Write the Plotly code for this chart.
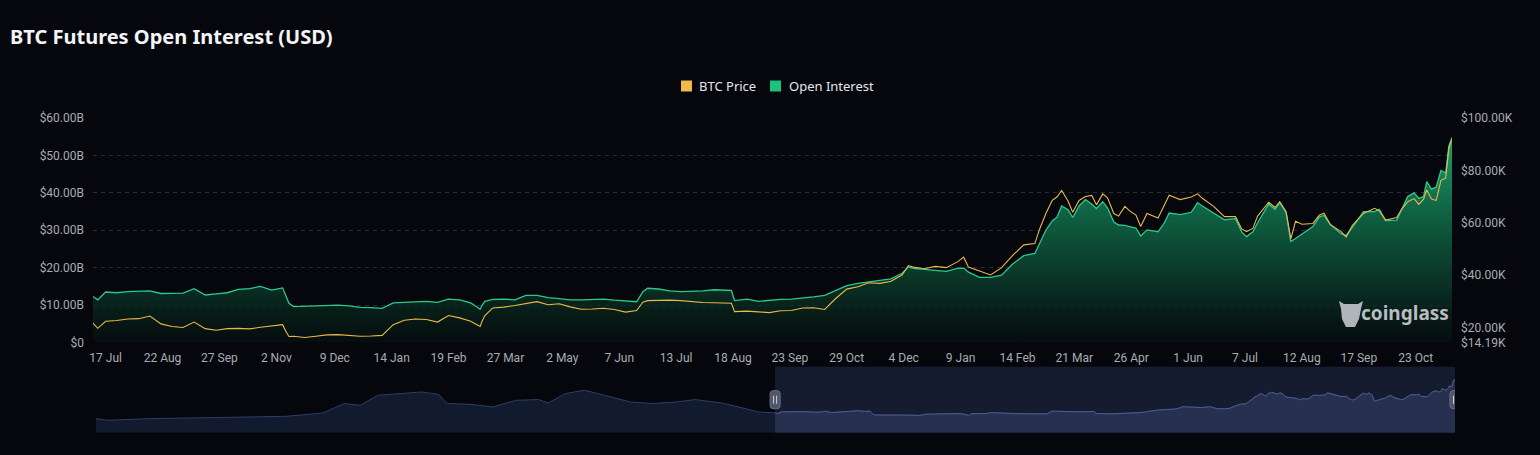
import plotly.graph_objects as go

# ---------------- data ----------------
dates = [
    "2022-07-09", "2022-07-12", "2022-07-17", "2022-07-24", "2022-07-31",
    "2022-08-07", "2022-08-14", "2022-08-21", "2022-08-28",
    "2022-09-04", "2022-09-11", "2022-09-18", "2022-09-25",
    "2022-10-02", "2022-10-09", "2022-10-16", "2022-10-23", "2022-10-30",
    "2022-11-06", "2022-11-08", "2022-11-10", "2022-11-13", "2022-11-20", "2022-11-27",
    "2022-12-04", "2022-12-11", "2022-12-18", "2022-12-25",
    "2023-01-01", "2023-01-08", "2023-01-15", "2023-01-22", "2023-01-29",
    "2023-02-05", "2023-02-12", "2023-02-19", "2023-02-26",
    "2023-03-05", "2023-03-09", "2023-03-11", "2023-03-12", "2023-03-14", "2023-03-19", "2023-03-26",
    "2023-04-02", "2023-04-09", "2023-04-16", "2023-04-23", "2023-04-30",
    "2023-05-07", "2023-05-14", "2023-05-21", "2023-05-28",
    "2023-06-04", "2023-06-11", "2023-06-18", "2023-06-22", "2023-06-25",
    "2023-07-02", "2023-07-09", "2023-07-16", "2023-07-23", "2023-07-30",
    "2023-08-06", "2023-08-13", "2023-08-17", "2023-08-19", "2023-08-27",
    "2023-09-03", "2023-09-10", "2023-09-17", "2023-09-24",
    "2023-10-01", "2023-10-08", "2023-10-15", "2023-10-22", "2023-10-29",
    "2023-11-05", "2023-11-12", "2023-11-19", "2023-11-26",
    "2023-12-03", "2023-12-07", "2023-12-10", "2023-12-17", "2023-12-24", "2023-12-31",
    "2024-01-07", "2024-01-11", "2024-01-14", "2024-01-21", "2024-01-28",
    "2024-02-04", "2024-02-11", "2024-02-18", "2024-02-25", "2024-02-28",
    "2024-03-03", "2024-03-07", "2024-03-10", "2024-03-13", "2024-03-17", "2024-03-20", "2024-03-24", "2024-03-28",
    "2024-04-01", "2024-04-04", "2024-04-08", "2024-04-11", "2024-04-15", "2024-04-18", "2024-04-22", "2024-04-25", "2024-04-29",
    "2024-05-02", "2024-05-06", "2024-05-13", "2024-05-17", "2024-05-20", "2024-05-27",
    "2024-06-03", "2024-06-07", "2024-06-10", "2024-06-17", "2024-06-24",
    "2024-07-01", "2024-07-05", "2024-07-08", "2024-07-12", "2024-07-15", "2024-07-22", "2024-07-26", "2024-07-29",
    "2024-08-02", "2024-08-05", "2024-08-08", "2024-08-12", "2024-08-19", "2024-08-23", "2024-08-26", "2024-08-30",
    "2024-09-06", "2024-09-09", "2024-09-13", "2024-09-20", "2024-09-27", "2024-09-30",
    "2024-10-04", "2024-10-11", "2024-10-14", "2024-10-18", "2024-10-22", "2024-10-25", "2024-10-28", "2024-10-30",
    "2024-11-02", "2024-11-05", "2024-11-08", "2024-11-11", "2024-11-13", "2024-11-15",
]

# Open interest, billions USD
oi_b = [
    12.3, 11.4, 13.5, 13.3, 13.6,
    13.8, 13.8, 13.1, 13.2,
    13.2, 14.4, 12.7, 13.0,
    13.3, 14.2, 14.4, 15.0, 14.0,
    14.6, 12.5, 10.5, 9.6, 9.7, 9.9,
    10.0, 10.0, 9.8, 9.4,
    9.3, 9.1, 10.6, 10.8, 11.0,
    11.0, 10.7, 11.6, 11.4,
    10.6, 9.5, 8.9, 9.8, 11.0, 11.5, 11.6,
    11.4, 12.6, 12.6, 12.0, 11.7,
    11.4, 11.4, 11.6, 11.6,
    11.3, 11.0, 10.9, 13.6, 14.5,
    14.3, 13.8, 13.6, 13.6, 13.8,
    14.1, 14.0, 13.9, 11.2, 11.6,
    11.0, 11.3, 11.5, 11.6,
    12.0, 12.2, 12.6, 13.8, 15.2,
    15.8, 16.2, 16.6, 17.0,
    18.5, 20.2, 19.8, 19.5, 19.4, 19.0,
    19.8, 19.9, 18.8, 17.4, 17.4,
    18.0, 21.0, 23.2, 23.8, 26.5,
    30.0, 32.5, 33.5, 36.5, 35.5, 33.4, 36.5, 38.2,
    37.0, 35.8, 37.6, 36.0, 32.2, 31.4, 31.3, 31.0, 30.6,
    28.5, 30.1, 29.6, 32.0, 34.6, 34.2,
    34.8, 37.4, 36.5, 34.7, 32.8,
    33.1, 29.5, 28.3, 29.6, 32.0, 37.0, 35.6, 37.4,
    34.8, 27.0, 27.8, 29.0, 31.0, 33.5, 34.0, 31.5,
    29.0, 28.6, 30.8, 35.0, 35.0, 35.6,
    32.6, 32.7, 35.5, 39.0, 40.0, 38.5, 39.0, 43.0,
    41.0, 41.5, 46.0, 45.3, 52.5, 54.8,
]

# BTC price, thousands USD
price_k = [
    21.6, 19.6, 22.3, 22.6, 23.2,
    23.3, 24.3, 21.3, 20.3,
    19.9, 22.0, 19.5, 18.9,
    19.5, 19.6, 19.4, 20.0, 20.5,
    21.0, 18.5, 16.5, 16.6, 16.1, 16.6,
    17.1, 17.2, 16.9, 16.6,
    16.7, 16.9, 21.0, 22.7, 23.2,
    23.0, 22.0, 24.5, 23.6,
    22.3, 21.0, 20.3, 22.0, 24.5, 27.4, 27.7,
    28.3, 29.0, 29.8, 28.6, 29.0,
    27.8, 26.9, 27.0, 27.3,
    26.8, 25.8, 26.4, 29.6, 30.2,
    30.4, 30.4, 30.2, 29.8, 29.5,
    29.4, 29.3, 29.2, 26.0, 26.2,
    25.9, 25.6, 26.3, 26.4,
    27.4, 27.5, 26.8, 31.0, 34.6,
    35.5, 37.0, 36.8, 37.6,
    40.0, 43.6, 43.0, 42.4, 43.3, 42.8,
    45.0, 46.8, 43.0, 41.5, 40.0,
    42.8, 47.5, 51.5, 52.0, 57.5,
    63.5, 68.5, 69.8, 72.3, 68.3, 64.0, 68.5, 70.0,
    70.4, 66.8, 71.0, 69.5, 63.5, 62.5, 66.2, 64.5, 62.9,
    58.5, 63.5, 61.8, 66.5, 70.5, 68.8,
    69.8, 71.0, 69.3, 66.3, 62.3,
    62.3, 57.5, 56.6, 57.8, 62.5, 67.8, 65.8, 68.0,
    64.2, 53.8, 60.5, 59.4, 59.7, 62.8, 63.6, 59.3,
    56.5, 54.5, 59.0, 63.5, 65.5, 64.5,
    61.0, 62.0, 65.0, 68.0, 69.2, 67.0, 69.0, 72.5,
    69.0, 68.5, 76.2, 77.0, 88.5, 91.8,
]

# earlier open-interest history shown only in the zoom navigator (billions USD)
nav_dates = [
    "2020-03-02", "2020-03-17", "2020-05-08", "2020-08-03", "2020-10-28", "2020-12-14",
    "2021-01-10", "2021-01-30", "2021-02-22", "2021-03-23", "2021-04-18", "2021-05-09",
    "2021-05-20", "2021-06-18", "2021-07-17", "2021-08-15", "2021-09-13", "2021-09-25",
    "2021-10-17", "2021-11-10", "2021-12-09", "2022-01-07", "2022-02-04", "2022-03-06",
    "2022-03-30", "2022-05-03", "2022-06-01", "2022-06-18",
]
nav_oi_b = [
    5.0, 2.9, 5.0, 6.3, 7.9, 12.1,
    24.0, 21.8, 34.5, 36.6, 38.6, 35.7,
    24.0, 23.1, 19.7, 28.1, 29.0, 24.7,
    36.6, 40.8, 33.2, 26.0, 24.0, 26.0,
    29.0, 24.7, 17.7, 13.4,
]

x_tick_dates = [
    "2022-07-17", "2022-08-22", "2022-09-27", "2022-11-02", "2022-12-09", "2023-01-14",
    "2023-02-19", "2023-03-27", "2023-05-02", "2023-06-07", "2023-07-13", "2023-08-18",
    "2023-09-23", "2023-10-29", "2023-12-04", "2024-01-09", "2024-02-14", "2024-03-21",
    "2024-04-26", "2024-06-01", "2024-07-07", "2024-08-12", "2024-09-17", "2024-10-23",
]
x_tick_labels = [
    "17 Jul", "22 Aug", "27 Sep", "2 Nov", "9 Dec", "14 Jan",
    "19 Feb", "27 Mar", "2 May", "7 Jun", "13 Jul", "18 Aug",
    "23 Sep", "29 Oct", "4 Dec", "9 Jan", "14 Feb", "21 Mar",
    "26 Apr", "1 Jun", "7 Jul", "12 Aug", "17 Sep", "23 Oct",
]
oi_ticks = [0, 10, 20, 30, 40, 50, 60]
oi_tick_labels = ["$0", "$10.00B", "$20.00B", "$30.00B", "$40.00B", "$50.00B", "$60.00B"]
price_ticks = [14.19, 20, 40, 60, 80, 100]
price_tick_labels = ["$14.19K", "$20.00K", "$40.00K", "$60.00K", "$80.00K", "$100.00K"]

series_names = ["BTC Price", "Open Interest"]

# ---------------- styling ----------------
W, H = 1540, 455
ML, MR = 93, 85
PW = W - ML - MR
BG = "#05070c"
GRID = "#2a2d36"
TICK = "#a9acb2"
GREEN = "#2cc98d"
YELLOW = "#e8b94a"
FONT = "Roboto, 'Noto Sans', sans-serif"
NOTO = "'Noto Sans', sans-serif"


def px_x(px):
    return (px - ML) / PW


def px_y(py):
    return (H - py) / H


fig = go.Figure()

# main open interest area
fig.add_trace(go.Scatter(
    x=dates, y=oi_b, name=series_names[1], mode="lines",
    line=dict(color=GREEN, width=1.3),
    fill="tozeroy",
    fillgradient=dict(
        type="vertical",
        colorscale=[
            [0.0, "rgba(6,18,16,0.55)"],
            [0.25, "rgba(10,52,38,0.82)"],
            [0.55, "rgba(15,96,66,0.88)"],
            [0.8, "rgba(22,136,92,0.92)"],
            [1.0, "rgba(34,172,116,0.95)"],
        ],
    ),
    xaxis="x", yaxis="y", showlegend=False, hoverinfo="skip",
))

# BTC price line
fig.add_trace(go.Scatter(
    x=dates, y=price_k, name=series_names[0], mode="lines",
    line=dict(color=YELLOW, width=1.1),
    xaxis="x", yaxis="y2", showlegend=False, hoverinfo="skip",
))

# ---------------- navigator ----------------
nav_all_x = nav_dates + dates
nav_all_y = nav_oi_b + oi_b
nmin, nmax = min(nav_all_y), max(nav_all_y)
span = nmax - nmin
nav_lo, nav_hi = nmin - 0.3 * span, nmax + 0.3 * span

fig.add_trace(go.Scatter(
    x=nav_all_x, y=[nav_lo] * len(nav_all_x), mode="lines", line=dict(width=0),
    xaxis="x2", yaxis="y3", showlegend=False, hoverinfo="skip",
))
fig.add_trace(go.Scatter(
    x=nav_all_x, y=nav_all_y, mode="lines", line=dict(color="#2f3d6a", width=1),
    fill="tonexty", fillcolor="#121a2e",
    xaxis="x2", yaxis="y3", showlegend=False, hoverinfo="skip",
))
fig.add_trace(go.Scatter(
    x=dates, y=[nav_lo] * len(dates), mode="lines", line=dict(width=0),
    xaxis="x2", yaxis="y3", showlegend=False, hoverinfo="skip",
))
fig.add_trace(go.Scatter(
    x=dates, y=oi_b, mode="lines", line=dict(color="#4d5d94", width=1),
    fill="tonexty", fillcolor="#27314f",
    xaxis="x2", yaxis="y3", showlegend=False, hoverinfo="skip",
))

shapes = []
# selected window background
shapes.append(dict(
    type="rect", xref="x2", yref="y3 domain", x0=dates[0], x1=dates[-1], y0=0, y1=1,
    fillcolor="rgba(45,58,100,0.42)", line=dict(width=0), layer="below",
))
# handles
for hx in (dates[0], dates[-1]):
    shapes.append(dict(
        type="path", xref="x2", yref="y3 domain", xsizemode="pixel", ysizemode="pixel",
        xanchor=hx, yanchor=0.5,
        path="M -5,-6 Q -5,-9 -2,-9 L 2,-9 Q 5,-9 5,-6 L 5,6 Q 5,9 2,9 L -2,9 Q -5,9 -5,6 Z",
        fillcolor="#50566a", line=dict(color="#6a7084", width=1), layer="above",
    ))
    for dx in (-1.5, 1.5):
        shapes.append(dict(
            type="line", xref="x2", yref="y3 domain", xsizemode="pixel", ysizemode="pixel",
            xanchor=hx, yanchor=0.5, x0=dx, x1=dx, y0=-4, y1=4,
            line=dict(color="#d0d3da", width=1), layer="above",
        ))

# legend squares + labels
legend_colors = ["#f0b94a", "#19c27f"]
legend_px = [(681, 697), (770, 787)]
annotations = []
for (sq, tx), col, name in zip(legend_px, legend_colors, series_names):
    shapes.append(dict(
        type="rect", xref="paper", yref="paper",
        x0=px_x(sq), x1=px_x(sq + 11), y0=px_y(91.5), y1=px_y(80.5),
        fillcolor=col, line=dict(width=0),
    ))
    annotations.append(dict(
        xref="paper", yref="paper", x=px_x(tx), y=px_y(86), xanchor="left", yanchor="middle",
        text=name, showarrow=False, font=dict(family=NOTO, size=13, color="#e4e6ea"),
    ))

# watermark (logo glyph + text)
shapes.append(dict(
    type="path", xref="paper", yref="paper",
    path=(f"M {px_x(1339)},{px_y(301)} L {px_x(1344)},{px_y(304)} L {px_x(1358)},{px_y(304)} "
          f"L {px_x(1363)},{px_y(301)} L {px_x(1361)},{px_y(309)} "
          f"L {px_x(1359)},{px_y(319)} L {px_x(1355)},{px_y(327)} "
          f"L {px_x(1346)},{px_y(327)} L {px_x(1342)},{px_y(319)} L {px_x(1341)},{px_y(309)} Z"),
    fillcolor="rgba(205,208,213,0.85)", line=dict(width=0),
))
annotations.append(dict(
    xref="paper", yref="paper", x=px_x(1451), y=px_y(313), xanchor="right", yanchor="middle",
    text="<b>coinglass</b>", showarrow=False,
    font=dict(family=NOTO, size=19, color="rgba(210,213,218,0.88)"),
))

main_dom_y = [px_y(342.5), px_y(118)]
nav_dom_y = [px_y(432.7), px_y(366.7)]

fig.update_layout(
    width=W, height=H,
    margin=dict(l=ML, r=MR, t=0, b=0, autoexpand=False),
    paper_bgcolor=BG, plot_bgcolor=BG,
    font=dict(family=FONT, size=12, color=TICK),
    title=dict(
        text="<b>BTC Futures Open Interest (USD)</b>",
        xref="container", yref="container", x=10 / W, y=1 - 37 / H,
        xanchor="left", yanchor="middle",
        font=dict(family=NOTO, size=20, color="#f2f4f7"),
    ),
    xaxis=dict(
        domain=[0, px_x(1452)], type="date", range=[dates[0], dates[-1]],
        tickvals=x_tick_dates, ticktext=x_tick_labels, showgrid=False, zeroline=False,
        showline=False, ticks="", ticklabelstandoff=6, automargin=False,
        tickfont=dict(size=12, color=TICK), anchor="y",
    ),
    yaxis=dict(
        domain=main_dom_y, range=[0, 60], tickvals=oi_ticks, ticktext=oi_tick_labels,
        showgrid=True, gridcolor=GRID, griddash="4px,4px", gridwidth=1, zeroline=False,
        showline=False, ticks="", ticklabelstandoff=8, automargin=False,
        tickfont=dict(size=12, color=TICK),
    ),
    yaxis2=dict(
        overlaying="y", side="right", anchor="x", range=[14.19, 100],
        tickvals=price_ticks, ticktext=price_tick_labels, showgrid=False, zeroline=False,
        showline=False, ticks="", ticklabelstandoff=8, automargin=False,
        tickfont=dict(size=12, color=TICK),
    ),
    xaxis2=dict(
        domain=[px_x(96), 1], type="date", range=[nav_dates[0], dates[-1]],
        visible=False, anchor="y3",
    ),
    yaxis3=dict(domain=nav_dom_y, range=[nav_lo, nav_hi], visible=False, anchor="x2"),
    shapes=shapes,
    annotations=annotations,
    showlegend=False,
)

fig.write_html("out.html")
